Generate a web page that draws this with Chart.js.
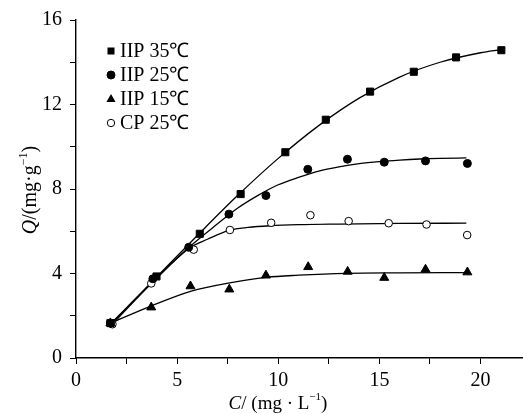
<!DOCTYPE html>
<html>
<head>
<meta charset="utf-8">
<script src="https://cdn.jsdelivr.net/npm/chart.js@4.4.1/dist/chart.umd.min.js"></script>
<style>
html,body{margin:0;padding:0;background:#fff;}
#wrap{width:523px;height:414px;position:relative;}
</style>
</head>
<body>
<div id="wrap"><canvas id="c" width="523" height="414"></canvas></div>
<script>
// ---- data ----
const seriesNames = ['IIP 35℃', 'IIP 25℃', 'IIP 15℃', 'CP 25℃'];

const iip35X = [1.7, 3.98, 6.12, 8.14, 10.35, 12.35, 14.54, 16.7, 18.79, 21.03];
const iip35Y = [1.65, 3.86, 5.88, 7.76, 9.74, 11.28, 12.61, 13.55, 14.23, 14.57];

const iip25X = [1.7, 3.8, 5.57, 7.56, 9.39, 11.46, 13.42, 15.24, 17.28, 19.35];
const iip25Y = [1.65, 3.75, 5.24, 6.81, 7.69, 8.93, 9.41, 9.27, 9.33, 9.21];

const iip15X = [1.7, 3.72, 5.66, 7.58, 9.39, 11.48, 13.43, 15.24, 17.28, 19.35];
const iip15Y = [1.65, 2.40, 3.40, 3.25, 3.91, 4.31, 4.09, 3.80, 4.19, 4.06];

const cpX = [1.8, 3.72, 5.82, 7.61, 9.65, 11.59, 13.48, 15.46, 17.33, 19.34];
const cpY = [1.6, 3.53, 5.13, 6.06, 6.40, 6.76, 6.48, 6.38, 6.32, 5.82];

// fitted curves
const fit35X = [1.7, 4, 6, 8, 10, 12, 14, 16, 18, 20, 21];
const fit35Y = [1.6, 3.85, 5.8, 7.7, 9.45, 11.0, 12.3, 13.3, 14.0, 14.45, 14.6];

const fit25X = [1.7, 4, 5.6, 7, 8, 9, 10, 11, 12, 13, 14, 15, 16, 17, 18, 19.3];
const fit25Y = [1.6, 3.8, 5.25, 6.35, 7.1, 7.7, 8.2, 8.55, 8.85, 9.05, 9.2, 9.3, 9.37, 9.42, 9.45, 9.47];

const fit15X = [1.7, 3.7, 5.7, 7.6, 9.4, 11, 13.4, 16, 19.3];
const fit15Y = [1.65, 2.46, 3.17, 3.56, 3.82, 3.92, 4.01, 4.03, 4.04];

const fitCPX = [1.8, 3.7, 5.6, 6.5, 7.6, 8.5, 9.6, 11, 13, 16, 19.3];
const fitCPY = [1.6, 3.5, 5.2, 5.62, 6.05, 6.18, 6.26, 6.31, 6.34, 6.37, 6.38];

const xTickValues = [0, 2.5, 5, 7.5, 10, 12.5, 15, 17.5, 20];
const xTickLabels = ['0', '', '5', '', '10', '', '15', '', '20'];
const yTickValues = [0, 2, 4, 6, 8, 10, 12, 14, 16];
const yTickLabels = ['0', '', '4', '', '8', '', '12', '', '16'];

const xTitle = ['C', '/ (mg · L', '−1', ')'];
const yTitle = ['Q', '/(mg·g', '−1', ')'];

// ---- helpers ----
const pts = (xs, ys) => xs.map((x, i) => ({x: x, y: ys[i]}));
const SERIF = '"Liberation Serif", "Times New Roman", serif';

function pointSet(label, xs, ys, style, radius, fill) {
  return {
    type: 'scatter', label: label, data: pts(xs, ys), order: 0,
    pointStyle: style, pointRadius: radius, pointHoverRadius: radius,
    backgroundColor: fill, borderColor: '#000', borderWidth: 1, showLine: false
  };
}
function curveSet(xs, ys) {
  return {
    type: 'line', label: '', data: pts(xs, ys), order: 1,
    borderColor: '#000', borderWidth: 1.3, pointRadius: 0, fill: false,
    cubicInterpolationMode: 'monotone', showLine: true
  };
}

function drawRich(ctx, parts, cx, cy, size) {
  const fonts = [
    'italic ' + size + 'px ' + SERIF,
    size + 'px ' + SERIF,
    Math.round(size * 0.6) + 'px ' + SERIF,
    size + 'px ' + SERIF
  ];
  const offs = [0, 0, -size * 0.38, 0];
  let widths = parts.map((p, i) => { ctx.font = fonts[i]; return ctx.measureText(p).width; });
  let total = widths.reduce((a, b) => a + b, 0);
  let x = cx - total / 2;
  ctx.textBaseline = 'middle';
  ctx.textAlign = 'left';
  ctx.fillStyle = '#000';
  parts.forEach((p, i) => { ctx.font = fonts[i]; ctx.fillText(p, x, cy + offs[i]); x += widths[i]; });
}

const legendMarks = [
  {style: 'rect', fill: '#000'},
  {style: 'circle', fill: '#000'},
  {style: 'triangle', fill: '#000'},
  {style: 'circle', fill: '#fff'}
];

const decor = {
  id: 'decor',
  afterDraw(chart) {
    const ctx = chart.ctx;
    ctx.save();
    // axis titles
    drawRich(ctx, xTitle, 278, 404, 19);
    ctx.save();
    ctx.translate(31, 190);
    ctx.rotate(-Math.PI / 2);
    drawRich(ctx, yTitle, 0, 0, 20);
    ctx.restore();
    // legend
    const rowY = [51, 75, 99, 123];
    seriesNames.forEach((name, i) => {
      const mx = 111, my = rowY[i];
      const m = legendMarks[i];
      ctx.fillStyle = m.fill; ctx.strokeStyle = '#000'; ctx.lineWidth = 1;
      ctx.beginPath();
      if (m.style === 'rect') { ctx.rect(mx - 3.5, my - 3.5, 7, 7); ctx.fill(); }
      else if (m.style === 'circle') { ctx.arc(mx, my, m.fill === '#fff' ? 3.7 : 4, 0, Math.PI * 2); ctx.fill(); ctx.stroke(); }
      else { ctx.moveTo(mx, my - 5); ctx.lineTo(mx + 4.6, my + 3); ctx.lineTo(mx - 4.6, my + 3); ctx.closePath(); ctx.fill(); }
      ctx.fillStyle = '#000';
      ctx.font = '20px ' + SERIF;
      ctx.textAlign = 'left'; ctx.textBaseline = 'middle';
      ctx.fillText(name, 120, my + 1);
    });
    ctx.restore();
  }
};

new Chart(document.getElementById('c'), {
  type: 'scatter',
  data: {
    datasets: [
      pointSet(seriesNames[0], iip35X, iip35Y, 'rect', 5, '#000'),
      pointSet(seriesNames[1], iip25X, iip25Y, 'circle', 4, '#000'),
      pointSet(seriesNames[2], iip15X, iip15Y, 'triangle', 5.2, '#000'),
      pointSet(seriesNames[3], cpX, cpY, 'circle', 3.8, '#fff'),
      curveSet(fit35X, fit35Y),
      curveSet(fit25X, fit25Y),
      curveSet(fit15X, fit15Y),
      curveSet(fitCPX, fitCPY)
    ]
  },
  options: {
    responsive: false,
    animation: false,
    devicePixelRatio: 1,
    layout: {autoPadding: false, padding: {top: 19, right: 0, left: 0, bottom: 0}},
    plugins: {legend: {display: false}, tooltip: {enabled: false}, title: {display: false}},
    scales: {
      x: {
        type: 'linear', min: 0, max: 22.1,
        afterBuildTicks: s => { s.ticks = xTickValues.map(v => ({value: v})); },
        afterFit: s => { s.height = 56; s.paddingRight = 0; s.paddingLeft = 0; },
        ticks: {
          callback: (v, i) => xTickLabels[i], color: '#000', padding: 5,
          font: {family: SERIF, size: 20}, maxRotation: 0, autoSkip: false
        },
        grid: {drawOnChartArea: false, drawTicks: true, tickLength: 6, color: '#000', lineWidth: 1},
        border: {display: true, color: '#000', width: 1.4}
      },
      y: {
        type: 'linear', min: 0, max: 16,
        afterBuildTicks: s => { s.ticks = yTickValues.map(v => ({value: v})); },
        afterFit: s => { s.width = 76; },
        ticks: {
          callback: (v, i) => yTickLabels[i], color: '#000', padding: 8,
          font: {family: SERIF, size: 20}, autoSkip: false
        },
        grid: {drawOnChartArea: false, drawTicks: true, tickLength: 6, color: '#000', lineWidth: 1},
        border: {display: true, color: '#000', width: 1.4}
      }
    }
  },
  plugins: [decor]
});
</script>
</body>
</html>
